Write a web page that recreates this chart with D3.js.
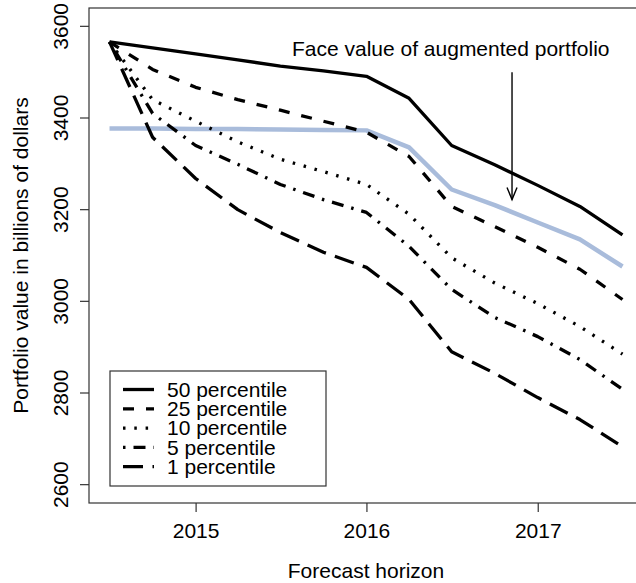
<!DOCTYPE html>
<html>
<head>
<meta charset="utf-8">
<script src="https://cdn.jsdelivr.net/npm/d3@7"></script>
<style>
  body { margin: 0; background: #fff; }
  text { font-family: "Liberation Sans", Arial, Helvetica, sans-serif; fill: #000; }
</style>
</head>
<body>
<div id="chart"></div>
<script>
// quarter-end dates of the forecast horizon
var quarters = ["2014-06-30", "2014-09-30", "2014-12-31", "2015-03-31", "2015-06-30",
  "2015-09-30", "2015-12-31", "2016-03-31", "2016-06-30", "2016-09-30",
  "2016-12-31", "2017-03-31", "2017-06-30"];

var p50 = [3566, 3553, 3540, 3527, 3513, 3503, 3491, 3443, 3340, 3298, 3253, 3207, 3145];
var p25 = [3566, 3506, 3467, 3440, 3417, 3393, 3369, 3316, 3207, 3163, 3118, 3070, 3004];
var p10 = [3566, 3440, 3393, 3348, 3310, 3283, 3255, 3190, 3095, 3040, 2995, 2945, 2885];
var p5  = [3566, 3410, 3340, 3299, 3255, 3222, 3194, 3120, 3026, 2965, 2923, 2873, 2808];
var p1  = [3566, 3358, 3268, 3200, 3150, 3107, 3074, 3004, 2890, 2843, 2790, 2742, 2683];
var faceValue = [3377, 3377, 3376, 3376, 3375, 3374, 3373, 3336, 3244, 3210, 3172, 3135, 3076];

var yTicks = [2600, 2800, 3000, 3200, 3400, 3600];
var xTicks = ["2015-01-01", "2016-01-01", "2017-01-01"];

var legendLabels = ["50 percentile", "25 percentile", "10 percentile", "5 percentile", "1 percentile"];

var width = 636, height = 583;
var plotL = 89, plotR = 643, plotT = 8, plotB = 503;

var parse = d3.utcParse("%Y-%m-%d");
var dates = quarters.map(parse);

// R style 4% padding around the data range
var ext = d3.extent(dates);
var pad = (ext[1] - ext[0]) * 0.04;
var x = d3.scaleUtc()
  .domain([new Date(+ext[0] - pad), new Date(+ext[1] + pad)])
  .range([plotL, plotR]);

var y = d3.scaleLinear()
  .domain([2560, 3640])
  .range([plotB, plotT]);

var svg = d3.select("#chart").append("svg")
  .attr("width", width)
  .attr("height", height);

var line = d3.line()
  .x(function(d, i) { return x(dates[i]); })
  .y(function(d) { return y(d); });

var series = [
  {values: p50, dash: null},
  {values: p25, dash: "11,12"},
  {values: p10, dash: "2.5,8.8"},
  {values: p5, dash: "2.5,8,12,8"},
  {values: p1, dash: "20,9.5"}
];

// face value line goes underneath
svg.append("path")
  .attr("d", line(faceValue))
  .attr("fill", "none")
  .attr("stroke", "#a9bcdb")
  .attr("stroke-width", 4.5)
  .attr("stroke-linejoin", "round");

series.forEach(function(s) {
  svg.append("path")
    .attr("d", line(s.values))
    .attr("fill", "none")
    .attr("stroke", "#000")
    .attr("stroke-width", 3.3)
    .attr("stroke-linejoin", "round")
    .attr("stroke-dasharray", s.dash);
});

// frame
svg.append("rect")
  .attr("x", plotL)
  .attr("y", plotT)
  .attr("width", plotR - plotL)
  .attr("height", plotB - plotT)
  .attr("fill", "none")
  .attr("stroke", "#333")
  .attr("stroke-width", 1.2);

// y axis
var yAxis = svg.append("g");
yAxis.selectAll("line")
  .data(yTicks)
  .enter().append("line")
  .attr("x1", plotL - 9)
  .attr("x2", plotL)
  .attr("y1", function(d) { return y(d); })
  .attr("y2", function(d) { return y(d); })
  .attr("stroke", "#333")
  .attr("stroke-width", 1.2);
yAxis.selectAll("text")
  .data(yTicks)
  .enter().append("text")
  .attr("transform", function(d) { return "translate(68," + y(d) + ") rotate(-90)"; })
  .attr("text-anchor", "middle")
  .style("font-size", "21px")
  .text(function(d) { return d; });

// x axis
var xAxis = svg.append("g");
xAxis.selectAll("line")
  .data(xTicks)
  .enter().append("line")
  .attr("x1", function(d) { return x(parse(d)); })
  .attr("x2", function(d) { return x(parse(d)); })
  .attr("y1", plotB)
  .attr("y2", plotB + 9)
  .attr("stroke", "#333")
  .attr("stroke-width", 1.2);
xAxis.selectAll("text")
  .data(xTicks)
  .enter().append("text")
  .attr("x", function(d) { return x(parse(d)); })
  .attr("y", 538)
  .attr("text-anchor", "middle")
  .style("font-size", "21px")
  .text(function(d) { return d.slice(0, 4); });

// axis titles
svg.append("text")
  .attr("x", (plotL + plotR) / 2)
  .attr("y", 578)
  .attr("text-anchor", "middle")
  .style("font-size", "21px")
  .text("Forecast horizon");

svg.append("text")
  .attr("transform", "translate(28," + (plotT + plotB) / 2 + ") rotate(-90)")
  .attr("text-anchor", "middle")
  .style("font-size", "21px")
  .text("Portfolio value in billions of dollars");

// annotation and arrow
svg.append("text")
  .attr("x", x(parse("2016-06-28")))
  .attr("y", y(3552))
  .attr("dy", "0.35em")
  .attr("text-anchor", "middle")
  .style("font-size", "21px")
  .text("Face value of augmented portfolio");

var ax = x(parse("2016-11-06"));
var ay1 = y(3500), ay2 = y(3222);
svg.append("line")
  .attr("x1", ax).attr("x2", ax)
  .attr("y1", ay1).attr("y2", ay2)
  .attr("stroke", "#000")
  .attr("stroke-width", 1.4);
svg.append("path")
  .attr("d", "M" + (ax - 5) + "," + (ay2 - 12) + "L" + ax + "," + ay2 + "L" + (ax + 5) + "," + (ay2 - 12))
  .attr("fill", "none")
  .attr("stroke", "#000")
  .attr("stroke-width", 1.4);

// legend
var legend = svg.append("g");
legend.append("rect")
  .attr("x", 110)
  .attr("y", 371)
  .attr("width", 216)
  .attr("height", 115)
  .attr("fill", "#fff")
  .attr("stroke", "#333")
  .attr("stroke-width", 1.2);

var rows = legend.selectAll("g.row")
  .data(series)
  .enter().append("g")
  .attr("class", "row")
  .attr("transform", function(d, i) { return "translate(0," + (389.5 + i * 19.3) + ")"; });

rows.append("line")
  .attr("x1", 123)
  .attr("x2", 154)
  .attr("y1", 0)
  .attr("y2", 0)
  .attr("stroke", "#000")
  .attr("stroke-width", 3.3)
  .attr("stroke-dasharray", function(d) { return d.dash; });

rows.append("text")
  .attr("x", 167)
  .attr("y", 0)
  .attr("dy", "0.35em")
  .style("font-size", "21px")
  .text(function(d, i) { return legendLabels[i]; });
</script>
</body>
</html>
